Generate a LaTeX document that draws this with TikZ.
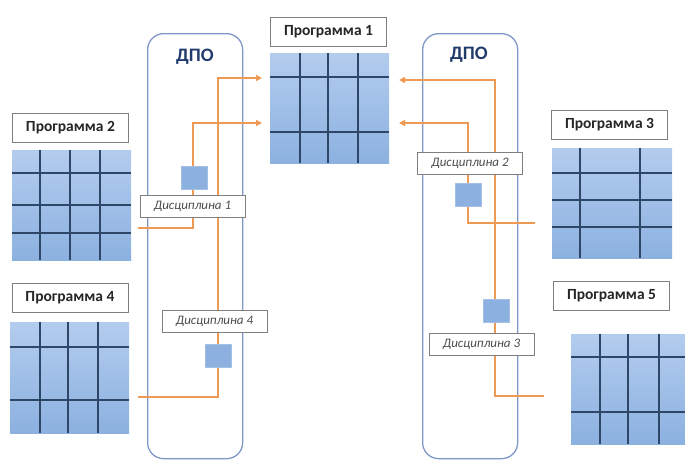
\documentclass[tikz,border=0pt]{standalone}
\usepackage{fontspec}
\setmainfont{Carlito}
\usetikzlibrary{arrows.meta}
\definecolor{gridA}{HTML}{B3CCEE}
\definecolor{gridB}{HTML}{8CB1E0}
\definecolor{gridline}{HTML}{2E4668}
\definecolor{capsline}{HTML}{7F97C6}
\definecolor{dpo}{HTML}{1F3A6B}
\definecolor{orng}{HTML}{EE9A52}
\definecolor{lblline}{HTML}{7F7F7F}
\tikzset{
  gridbox/.style={draw=none, top color=gridA, bottom color=gridB, anchor=north west, inner sep=0pt},
  gline/.style={draw=gridline, line width=1.4pt},
  capsule/.style={draw=capsline, line width=1.3pt, rounded corners=16pt, anchor=north west, inner sep=0pt, minimum width=95pt, minimum height=425pt},
  dpotext/.style={text=dpo, font=\bfseries\fontsize{19}{19}\selectfont},
  proglabel/.style={draw=lblline, line width=0.9pt, fill=white, minimum width=116pt, minimum height=29pt, inner sep=0pt, font=\bfseries\fontsize{15.5}{16}\selectfont, text=black!85},
  disclabel/.style={draw=lblline, line width=0.9pt, fill=white, minimum width=105pt, minimum height=22pt, inner sep=0pt, font=\itshape\fontsize{13}{13}\selectfont, text=black!70},
  sq/.style={fill=gridB, draw=gridB!80!white, line width=0.5pt, minimum width=26pt, minimum height=23pt, inner sep=0pt},
  link/.style={draw=orng, line width=2pt},
  arr/.style={link, -{Triangle[length=6pt,width=6pt]}}
}
\begin{document}
\begin{tikzpicture}[x=1pt,y=-1pt]
\useasboundingbox (0,0) rectangle (685,461);
% capsules
\node[capsule] (d1) at (147,33) {};
\node[capsule] (d2) at (422,33) {};
\node[dpotext] (t1) at (195,57) {ДПО};
\node[dpotext] (t2) at (469,55) {ДПО};
% grids
\node[gridbox, minimum width=119pt, minimum height=110pt] (g1) at (270,53) {};
\node[gridbox, minimum width=119pt, minimum height=110pt] (g2) at (12,150) {};
\node[gridbox, minimum width=120pt, minimum height=110pt] (g3) at (552,148) {};
\node[gridbox, minimum width=119pt, minimum height=111pt] (g4) at (10,322) {};
\node[gridbox, minimum width=114pt, minimum height=110pt] (g5) at (571,334) {};
% grid lines g1
\foreach \c in {30,58,88} \draw[gline] ([xshift=\c pt]g1.north west) -- ([xshift=\c pt]g1.south west);
\foreach \r in {24,79} \draw[gline] ([yshift=-\r pt]g1.north west) -- ([yshift=-\r pt]g1.north east);
% g2
\foreach \c in {28,58,88} \draw[gline] ([xshift=\c pt]g2.north west) -- ([xshift=\c pt]g2.south west);
\foreach \r in {23,55,83} \draw[gline] ([yshift=-\r pt]g2.north west) -- ([yshift=-\r pt]g2.north east);
% g3
\foreach \c in {28,88} \draw[gline] ([xshift=\c pt]g3.north west) -- ([xshift=\c pt]g3.south west);
\foreach \r in {25,52,79} \draw[gline] ([yshift=-\r pt]g3.north west) -- ([yshift=-\r pt]g3.north east);
% g4
\foreach \c in {30,58,88} \draw[gline] ([xshift=\c pt]g4.north west) -- ([xshift=\c pt]g4.south west);
\foreach \r in {25,78} \draw[gline] ([yshift=-\r pt]g4.north west) -- ([yshift=-\r pt]g4.north east);
% g5
\foreach \c in {29,57,88} \draw[gline] ([xshift=\c pt]g5.north west) -- ([xshift=\c pt]g5.south west);
\foreach \r in {23,78} \draw[gline] ([yshift=-\r pt]g5.north west) -- ([yshift=-\r pt]g5.north east);
% connector end points
\coordinate (s1) at (138,228);
\coordinate (s4) at (138,397);
\coordinate (s2) at (535,223);
\coordinate (s3) at (544,396);
\coordinate (e1) at (262,123);
\coordinate (e4) at (262,78);
\coordinate (e2) at (399,123);
\coordinate (e3) at (399,80);
% connectors
\draw[arr] (s1) -| (193,123) -- (e1);
\draw[arr] (s4) -| (218,78) -- (e4);
\draw[arr] (s2) -| (468,123) -- (e2);
\draw[arr] (s3) -| (495,80) -- (e3);
% small squares
\node[sq] (q1) at (194,178) {};
\node[sq] (q4) at (218,356) {};
\node[sq] (q2) at (468,195) {};
\node[sq] (q3) at (496,311) {};
% discipline labels
\node[disclabel] (c1) at (192.5,206) {Дисциплина 1};
\node[disclabel] (c4) at (214.5,321.5) {Дисциплина 4};
\node[disclabel] (c2) at (470,163) {Дисциплина 2};
\node[disclabel] (c3) at (481.5,344.5) {Дисциплина 3};
% programme labels
\node[proglabel] (p1) at (328.5,32) {Программа 1};
\node[proglabel] (p2) at (70.5,127.5) {Программа 2};
\node[proglabel] (p3) at (609.5,124.5) {Программа 3};
\node[proglabel] (p4) at (70,297.5) {Программа 4};
\node[proglabel] (p5) at (611.5,296) {Программа 5};
\end{tikzpicture}
\end{document}
